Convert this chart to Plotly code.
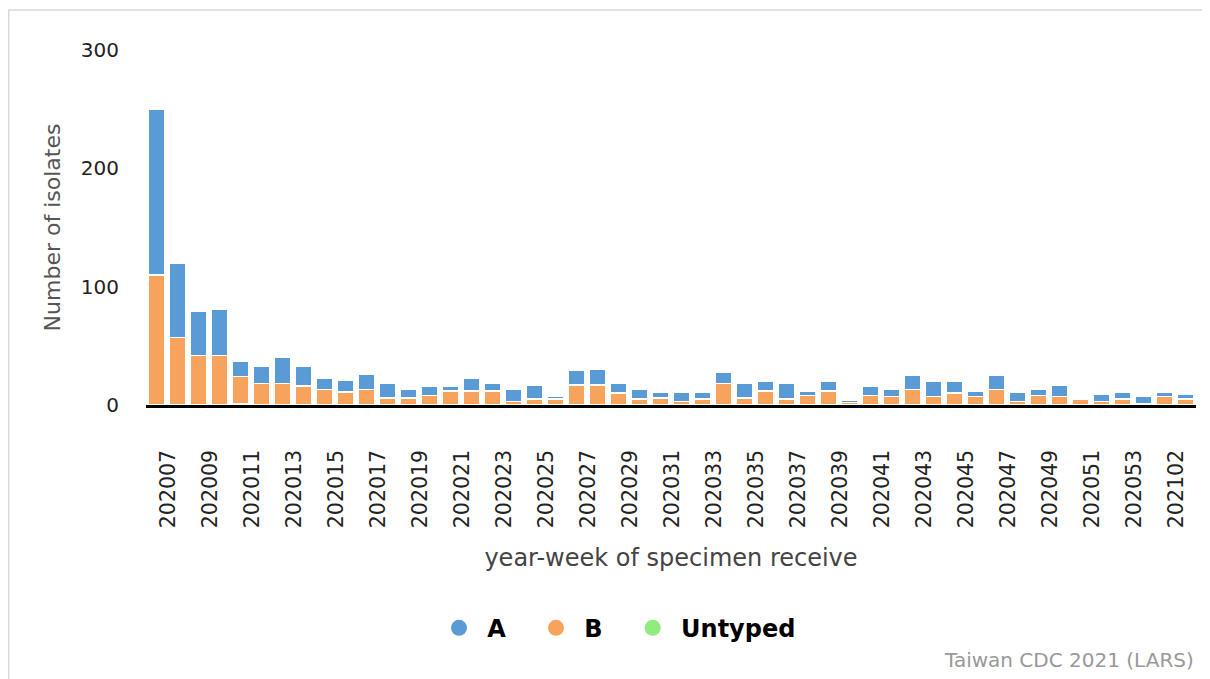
import plotly.graph_objects as go

weeks = ["202007", "202008", "202009", "202010", "202011", "202012", "202013", "202014",
         "202015", "202016", "202017", "202018", "202019", "202020", "202021", "202022",
         "202023", "202024", "202025", "202026", "202027", "202028", "202029", "202030",
         "202031", "202032", "202033", "202034", "202035", "202036", "202037", "202038",
         "202039", "202040", "202041", "202042", "202043", "202044", "202045", "202046",
         "202047", "202048", "202049", "202050", "202051", "202052", "202053", "202101",
         "202102", "202103"]

type_a = [140, 63, 37, 39, 13, 15, 22, 17, 10, 10, 13, 12, 7, 8, 4, 11,
          6, 10, 12, 2, 12, 13, 8, 8, 5, 8, 6, 10, 12, 8, 13, 4,
          8, 2, 8, 6, 12, 13, 10, 5, 12, 8, 5, 10, 0, 6, 6, 6,
          4, 4]

type_b = [110, 57, 42, 42, 23, 18, 18, 16, 13, 11, 13, 6, 6, 8, 12, 12,
          12, 3, 5, 5, 17, 17, 10, 5, 6, 3, 5, 18, 6, 12, 5, 8,
          12, 2, 8, 7, 13, 7, 10, 7, 13, 3, 8, 7, 5, 3, 5, 1,
          7, 5]

untyped = [0, 0, 0, 0, 1, 0, 0, 0, 0, 0, 0, 0, 0, 0, 0, 0,
           0, 0, 0, 0, 0, 0, 0, 0, 0, 0, 0, 0, 0, 0, 0, 0,
           0, 0, 0, 0, 0, 0, 0, 0, 0, 0, 0, 0, 0, 0, 0, 0,
           0, 0]

tick_labels = weeks[::2]

COL_A = "#5b9bd5"
COL_B = "#f7a35c"
COL_U = "#90ed7d"
FONT = "DejaVu Sans"
NB = "\u00a0"

fig = go.Figure()
# stacked bars: bottom to top = Untyped, B, A
for name, vals, col in [("Untyped", untyped, COL_U), ("B", type_b, COL_B), ("A", type_a, COL_A)]:
    fig.add_trace(go.Bar(
        x=weeks, y=vals, name=name, marker=dict(color=col, line=dict(color="white", width=1.5)),
        showlegend=False, hovertemplate=name + ": %{y}<extra></extra>"))

# legend entries with circle symbols
for name, col in [(NB + "A" + NB * 3, COL_A), (NB + "B" + NB * 3, COL_B), (NB + "Untyped", COL_U)]:
    fig.add_trace(go.Scatter(
        x=[None], y=[None], mode="markers", name=name,
        marker=dict(symbol="circle", size=16, color=col)))

W, H = 1202, 671
L, R, T, B = 138, 14, 42, 273.5
pw, ph = W - L - R, H - T - B

def px_x(px):
    return (px - L) / pw

def px_y(py):
    return (H - B - py) / ph

fig.update_layout(
    width=W, height=H,
    margin=dict(l=L, r=R, t=T, b=B),
    barmode="stack", bargap=0.17,
    plot_bgcolor="white", paper_bgcolor="white",
    font=dict(family=FONT, size=20, color="#333333"),
    xaxis=dict(
        type="category", categoryorder="array", categoryarray=weeks,
        tickmode="array", tickvals=tick_labels, ticktext=tick_labels,
        tickangle=-90, tickfont=dict(size=20.5, color="#222222"),
        ticklabelstandoff=34, ticklabelshift=12,
        showgrid=False, zeroline=False, showline=True, linecolor="black", linewidth=2.5,
        ticks="", automargin=False,
        title=dict(text="year-week of specimen receive", font=dict(size=24, color="#444444"),
                   standoff=22),
        fixedrange=True,
    ),
    yaxis=dict(
        range=[0, 300], tickmode="array", tickvals=[0, 100, 200, 300],
        tickfont=dict(size=20, color="#222222"),
        showgrid=False, zeroline=False, showline=False, ticks="",
        ticklabelstandoff=26, automargin=False,
        title=dict(text="Number of isolates", font=dict(size=22, color="#555555"), standoff=14),
        fixedrange=True,
    ),
    legend=dict(
        orientation="h", x=px_x(431), xanchor="left", y=px_y(621), yanchor="middle",
        font=dict(size=24, color="#000000", family=FONT, weight="bold"),
        traceorder="normal", itemclick=False, itemdoubleclick=False,
        bgcolor="rgba(0,0,0,0)",
    ),
    shapes=[dict(type="rect", xref="paper", yref="paper",
                 x0=px_x(0.75), x1=px_x(1230), y0=px_y(720), y1=px_y(2),
                 line=dict(color="#dadada", width=1.5), fillcolor="rgba(0,0,0,0)", layer="below")],
    annotations=[dict(text="Taiwan CDC 2021 (LARS)", xref="paper", yref="paper",
                      x=px_x(1188), y=px_y(653), xanchor="right", yanchor="middle",
                      showarrow=False, font=dict(size=20, color="#999999", family=FONT))],
)

fig.write_html("out.html")
